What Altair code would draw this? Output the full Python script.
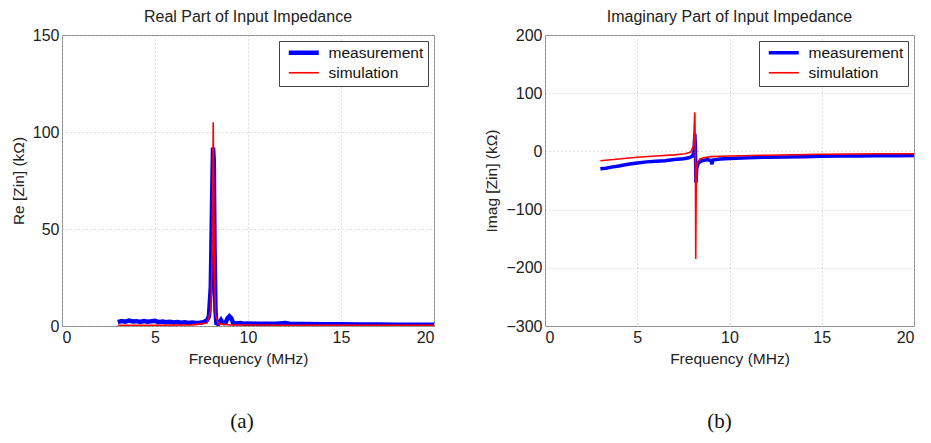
import altair as alt
import pandas as pd

series_names = ["measurement", "simulation"]
series_colors = ["#0000ff", "#ff0000"]

# Real part (kOhm)
re_meas_f = [3.0, 3.2, 3.4, 3.6, 3.8, 4.0, 4.2, 4.4, 4.6, 4.8, 5.0, 5.2, 5.4, 5.6, 5.8, 6.0, 6.2, 6.4, 6.6, 6.8,
             7.0, 7.2, 7.4, 7.6, 7.8, 7.9, 8.0, 8.08, 8.12, 8.16, 8.2, 8.25, 8.3, 8.4, 8.5, 8.55, 8.62, 8.7, 8.8,
             8.9, 9.0, 9.1, 9.2, 9.4, 9.6, 9.8, 10.0, 10.5, 11.0, 11.5, 12.0, 12.3, 13.0, 14.0, 15.0, 16.0,
             17.0, 18.0, 19.0, 20.0]
re_meas_v = [2.0, 2.6, 2.2, 2.8, 2.3, 2.5, 2.1, 2.6, 2.2, 2.4, 2.7, 2.0, 2.3, 1.9, 2.2, 1.8, 2.0, 1.7, 1.9, 1.6,
             1.8, 1.6, 1.7, 2.0, 3.0, 5.0, 20.0, 70.0, 92.0, 85.0, 40.0, 8.0, 1.5, 1.0, 2.2, 3.0, 1.8, 1.5, 1.8,
             4.0, 5.0, 4.0, 1.6, 1.3, 1.5, 1.2, 1.3, 1.2, 1.1, 1.2, 1.6, 1.0, 1.0, 0.9, 0.9, 0.8,
             0.8, 0.7, 0.7, 0.7]
re_sim_f = [3.0, 5.0, 7.0, 7.8, 8.0, 8.08, 8.13, 8.18, 8.25, 8.4, 9.0, 12.0, 20.0]
re_sim_v = [0.3, 0.4, 0.6, 1.5, 8.0, 40.0, 105.0, 40.0, 6.0, 1.2, 0.6, 0.4, 0.3]

# Imaginary part (kOhm)
im_meas_f = [3.0, 3.3, 3.6, 4.0, 4.5, 5.0, 5.5, 6.0, 6.5, 7.0, 7.5, 7.8, 8.0, 8.08, 8.12, 8.15, 8.18, 8.22,
             8.3, 8.5, 8.8, 9.0, 9.05, 9.1, 9.5, 10.0, 11.0, 12.0, 13.0, 14.0, 15.0, 16.0, 17.0, 18.0, 19.0, 20.0]
im_meas_v = [-30, -29, -27, -25, -22, -20, -18, -17, -16, -14, -12.5, -11, -8, 0, 30, 10, -54, -30,
             -20, -16, -14, -16, -22, -15, -13, -12, -11, -10, -9.5, -9, -8.5, -8, -8, -7.5, -7.5, -7]
im_sim_f = [3.0, 4.0, 5.0, 6.0, 7.0, 7.6, 7.9, 8.05, 8.12, 8.15, 8.17, 8.2, 8.25, 8.4, 8.6, 9.0, 10.0,
            12.0, 15.0, 18.0, 20.0]
im_sim_v = [-16, -13, -10, -8, -6, -4, -1, 10, 67, 0, -185, -40, -20, -13, -11, -9, -8,
            -6.5, -5, -4, -4]

panel_titles = ["Real Part of Input Impedance", "Imaginary Part of Input Impedance"]
y_titles = ["Re [Zin] (k\u03a9)", "Imag [Zin] (k\u03a9)"]
captions = ["(a)", "(b)"]
x_ticks = [0, 5, 10, 15, 20]
re_ticks = [0, 50, 100, 150]
im_ticks = [-300, -200, -100, 0, 100, 200]


def frame(f_meas, v_meas, f_sim, v_sim):
    a = pd.DataFrame({"f": f_meas, "v": v_meas, "series": series_names[0], "o": range(len(f_meas))})
    b = pd.DataFrame({"f": f_sim, "v": v_sim, "series": series_names[1], "o": range(len(f_sim))})
    return pd.concat([a, b], ignore_index=True)


def panel(df, title, ytitle, ydomain, yticks, caption, width, height, meas_w, cap_shift):
    base = alt.Chart(df)
    legend = alt.Legend(title=None, orient="top-right", offset=6, fillColor="white",
                        strokeColor="#444", padding=4)
    lines = base.mark_line(clip=True).encode(
        x=alt.X("f:Q", scale=alt.Scale(domain=[0, 20], nice=False),
                axis=alt.Axis(values=x_ticks, title="Frequency (MHz)")),
        y=alt.Y("v:Q", scale=alt.Scale(domain=ydomain, nice=False),
                axis=alt.Axis(values=yticks, title=ytitle)),
        color=alt.Color("series:N", scale=alt.Scale(domain=series_names, range=series_colors),
                        legend=legend),
        strokeWidth=alt.StrokeWidth("series:N",
                                    scale=alt.Scale(domain=series_names, range=[meas_w, 1.6]),
                                    legend=legend),
        order="o:Q",
    )
    cap = alt.Chart(pd.DataFrame({"c": [caption]})).mark_text(
        font="Liberation Serif", fontSize=21, color="#111"
    ).encode(text="c:N", x=alt.value(width / 2 + cap_shift), y=alt.value(height + 96))
    return alt.layer(lines, cap).properties(
        width=width, height=height,
        title=alt.TitleParams(title, fontSize=16, font="Liberation Sans", fontWeight="normal",
                              color="#222", offset=2),
    )


left = panel(frame(re_meas_f, re_meas_v, re_sim_f, re_sim_v), panel_titles[0], y_titles[0],
             [0, 150], re_ticks, captions[0], 372, 291, 4.5, -6)
right = panel(frame(im_meas_f, im_meas_v, im_sim_f, im_sim_v), panel_titles[1], y_titles[1],
              [-300, 200], im_ticks, captions[1], 369, 291, 3.5, -10)

chart = alt.hconcat(left, right, spacing=111, bounds="flush").resolve_scale(
    y="independent", color="independent", strokeWidth="independent"
).resolve_legend(
    color="independent", strokeWidth="independent"
).properties(
    padding={"left": 10, "top": 8, "right": 0, "bottom": 0}
).configure_view(stroke="#888", strokeWidth=1).configure_axis(
    labelFont="Liberation Sans", titleFont="Liberation Sans", labelFontSize=16, titleFontSize=15.5,
    labelColor="#222", titleColor="#222", titleFontWeight="normal",
    grid=True, gridColor="#bbb", gridDash=[1, 3], gridWidth=1,
    domain=False, ticks=False, labelPadding=3, titlePadding=6,
).configure_legend(
    labelFont="Liberation Sans", labelFontSize=15.5, labelColor="#111",
    symbolType="M-3,0H3", symbolSize=100, symbolOffset=13, rowPadding=3, labelOffset=17,
)

chart.save("out.html", embed_options={"renderer": "svg", "actions": False})
